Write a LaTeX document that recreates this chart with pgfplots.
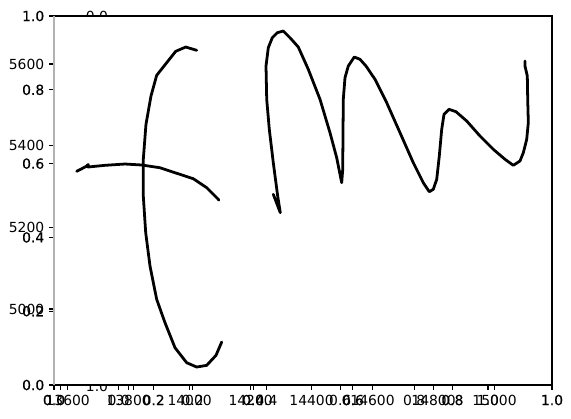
\documentclass[border=0pt]{standalone}
\usepackage{fontspec}
\setmainfont{DejaVu Sans}
\newfontfamily\dupfont[FakeBold=0.35]{DejaVu Sans}
\usepackage{pgfplots}
\pgfplotsset{compat=1.18}
\begin{document}
\begin{tikzpicture}
\def\W{358.56pt}
\def\H{265.68pt}
\pgfplotsset{
  base/.style={
    scale only axis, width=\W, height=\H, at={(0,0)}, anchor=south west,
    axis line style={draw=none},
    tick align=outside, major tick length=3.5pt,
    xtick pos=left, ytick pos=left,
    tick style={black, line width=0.8pt},
    every tick label/.append style={font=\fontsize{10}{12}\selectfont},
    /pgf/number format/assume math mode=true,
    /pgf/number format/1000 sep={},
    scaled ticks=false,
    clip=false,
  }
}
% outer axis 0..1 (drawn twice in the original, looks darker)
\begin{axis}[base,
  xmin=0, xmax=1, ymin=0, ymax=1,
  xtick={0,0.2,0.4,0.6,0.8,1}, xticklabels={0.0,0.2,0.4,0.6,0.8,1.0},
  ytick={0,0.2,0.4,0.6,0.8,1}, yticklabels={0.0,0.2,0.4,0.6,0.8,1.0},
  every tick label/.append style={font=\dupfont\fontsize{10}{12}\selectfont},
]
\end{axis}
% third axis with shifted 0..1 x ticks
\begin{axis}[base,
  xmin=-0.1752, xmax=1.1733, ymin=0, ymax=1,
  xtick={0,0.2,0.4,0.6,0.8,1}, xticklabels={0.0,0.2,0.4,0.6,0.8,1.0},
  ytick=\empty,
  extra x ticks={-0.157,0.0395}, extra x tick labels={},
]
\end{axis}
% data axis
\begin{axis}[base,
  xmin=13555.1, xmax=15188.6, ymin=4813.9, ymax=5717.6,
  xtick={13600,13800,14000,14200,14400,14600,14800,15000},
  xticklabels={13600,13800,14000,14200,14400,14600,14800,15000},
  ytick={5000,5200,5400,5600},
  yticklabels={5000,5200,5400,5600},
]
\addplot[black, line width=2pt, line join=round, line cap=round, no marks] coordinates {
(13629.5,5337.2) (13660.0,5349.0) (13667.6,5353.9) (13666.6,5347.8)
(13722.4,5351.9) (13788.0,5355.1) (13842.7,5352.7) (13902.8,5346.0)
(13952.0,5333.8) (14012.0,5319.1) (14056.0,5297.1) (14096.3,5266.9)
};
\addplot[black, line width=2pt, line join=round, line cap=round, no marks] coordinates {
(14023.1,5633.6) (13987.1,5641.6) (13954.3,5631.1) (13891.9,5572.3)
(13873.2,5521.6) (13856.8,5452.3) (13848.0,5366.6) (13848.0,5276.7)
(13855.9,5186.9) (13870.0,5105.3) (13891.9,5023.8) (13919.2,4966.4)
(13952.0,4905.2) (13990.3,4868.5) (14023.1,4857.9) (14056.0,4862.1)
(14086.5,4886.6) (14105.2,4919.2)
};
\addplot[black, line width=2pt, line join=round, line cap=round, no marks] coordinates {
(14274.4,5280.9) (14297.4,5235.8) (14288.8,5276.7) (14274.4,5358.3)
(14261.3,5440.1) (14252.8,5513.6) (14250.5,5595.1) (14258.0,5639.9)
(14271.1,5664.4) (14287.5,5676.7) (14307.2,5680.8) (14329.2,5664.4)
(14356.4,5641.6) (14389.2,5587.0) (14427.6,5513.6) (14460.4,5431.8)
(14482.4,5370.5) (14498.8,5309.3) (14502.1,5342.1) (14504.0,5513.6)
(14509.6,5566.5) (14520.4,5595.1) (14540.1,5617.1) (14558.8,5611.5)
(14578.5,5595.1) (14608.0,5562.5) (14646.4,5505.2) (14690.0,5431.8)
(14733.6,5358.3) (14766.4,5309.3) (14786.1,5287.3) (14799.2,5293.1)
(14810.4,5317.6) (14818.9,5374.7) (14826.8,5440.1) (14834.4,5476.8)
(14850.8,5489.1) (14873.7,5483.2) (14908.8,5460.4) (14952.4,5423.7)
(14996.1,5391.1) (15034.4,5366.6) (15061.7,5351.9) (15083.6,5362.5)
(15094.5,5382.8) (15105.6,5415.6) (15110.9,5456.2) (15108.9,5513.6)
(15107.6,5570.6) (15100.0,5595.1) (15100.0,5607.4)
};
\end{axis}
% frame
\draw[black, line width=0.8pt] (0,0) -- (\W,0) -- (\W,\H) -- (0,\H);
\draw[black!30, line width=0.8pt] (0,0) -- (0,\H);
% partially hidden labels of a further axis
\begin{scope}
\clip (0,\H+0.4pt) rectangle (\W,\H+20pt);
\node[inner sep=0pt, font=\fontsize{10}{12}\selectfont] at (30.96pt,\H) {0.0};
\end{scope}
\begin{scope}
\clip (0,-0.4pt) rectangle (\W,-20pt);
\node[inner sep=0pt, font=\fontsize{10}{12}\selectfont] at (30.96pt,-0.9pt) {1.0};
\end{scope}
\pgfresetboundingbox
\path (-38.88pt,-23.76pt) rectangle (372.24pt,277.2pt);
\end{tikzpicture}
\end{document}
